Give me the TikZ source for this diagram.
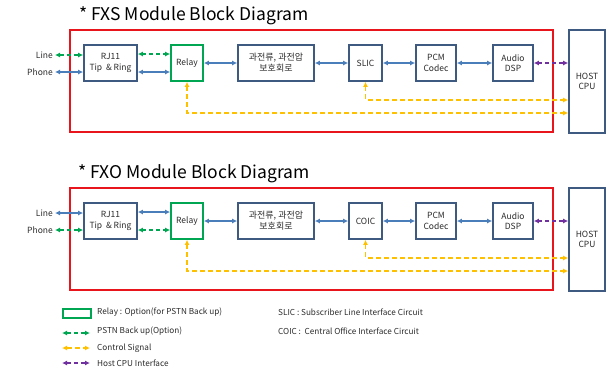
\documentclass[tikz,border=0pt]{standalone}
\usepackage{fontspec}
\setmainfont{Noto Sans CJK KR}
\usetikzlibrary{arrows.meta}

\definecolor{framered}{HTML}{E8161C}
\definecolor{boxline}{HTML}{3E5A80}
\definecolor{sigblue}{HTML}{4A7EBB}
\definecolor{pstngreen}{HTML}{00A651}
\definecolor{ctrlyellow}{HTML}{FFC000}
\definecolor{hostpurple}{HTML}{7030A0}
\definecolor{txt}{HTML}{2B2B2B}

\tikzset{
  tip/.tip={Latex[length=5pt,width=5pt]},
  title/.style={font=\fontsize{17.5}{20}\selectfont, text=black, inner sep=0},
  frame/.style={draw=framered, line width=2pt, inner sep=0},
  blk/.style={draw=boxline, line width=1.7pt, fill=white, align=center,
    inner sep=0, minimum height=36pt, text=txt,
    font=\fontsize{8.5}{10.5}\selectfont},
  relaybox/.style={blk, draw=pstngreen},
  lbl/.style={font=\fontsize{8.5}{10}\selectfont, text=txt, inner sep=0},
  lgd/.style={font=\fontsize{8.2}{10}\selectfont, text=txt, inner sep=0},
  sigarrow/.style={draw=sigblue, line width=1.6pt, {tip}-{tip}},
  pstnarrow/.style={draw=pstngreen, line width=1.6pt, dash pattern=on 4pt off 3pt, {tip}-{tip}},
  ctrlarrow/.style={draw=ctrlyellow, line width=1.8pt, dash pattern=on 5pt off 3pt, {tip}-{tip}},
  hostarrow/.style={draw=hostpurple, line width=1.6pt, dash pattern=on 4pt off 3pt, {tip}-{tip}},
}

% One module: #1 name prefix, #2 module type, #3 line interface block,
% #4 style of the Line path, #5 style of the Phone path
\newcommand{\drawmodule}[5]{%
  \node[title] (#1title) at (194,16) {* #2 Module Block Diagram};
  \node[frame, minimum width=483pt, minimum height=102pt] (#1frame) at (311.5,81) {};
  \node[blk, minimum width=53pt] (#1rj) at (110.5,63) {RJ11\\Tip \ \& Ring};
  \node[relaybox, minimum width=32pt] (#1relay) at (187,63) {Relay};
  \node[blk, minimum width=76pt, font=\fontsize{9}{11}\selectfont] (#1prot) at (276,63) {과전류, 과전압\\보호회로};
  \node[blk, minimum width=33pt] (#1if) at (365.5,63) {#3};
  \node[blk, minimum width=40pt] (#1pcm) at (436,63) {PCM\\Codec};
  \node[blk, minimum width=40pt] (#1dsp) at (513,63) {Audio\\DSP};
  \node[blk, minimum width=36pt, minimum height=103pt] (#1host) at (587,81.5) {HOST\\CPU};
  \node[lbl, anchor=east] (#1line) at (53,55) {Line};
  \node[lbl, anchor=east] (#1phone) at (53,72) {Phone};
  % telephone side
  \draw[#4] ([xshift=2pt]#1line.east) -- (#1line.east -| #1rj.west);
  \draw[#5] ([xshift=2pt]#1phone.east) -- (#1phone.east -| #1rj.west);
  \draw[#4] ([yshift=9pt]#1rj.east) -- ([yshift=9pt]#1relay.west);
  \draw[#5] ([yshift=-9pt]#1rj.east) -- ([yshift=-9pt]#1relay.west);
  % voice path
  \draw[sigarrow] (#1relay) -- (#1prot);
  \draw[sigarrow] (#1prot) -- (#1if);
  \draw[sigarrow] (#1if) -- (#1pcm);
  \draw[sigarrow] (#1pcm) -- (#1dsp);
  \draw[hostarrow] (#1dsp.east) -- (#1dsp.east -| #1host.west);
  % control lines
  \draw[ctrlarrow] (#1if.south) |- ([yshift=-18.5pt]#1host.west);
  \draw[ctrlarrow] (#1relay.south) |- ([yshift=-31.5pt]#1host.west);
}

\begin{document}
\begin{tikzpicture}[x=1pt, y=-1pt]
  \useasboundingbox (0,0) rectangle (609,368);

  \begin{scope}
    \drawmodule{s}{FXS}{SLIC}{pstnarrow}{sigarrow}
  \end{scope}
  \begin{scope}[shift={(0,158)}]
    \drawmodule{o}{FXO}{COIC}{sigarrow}{pstnarrow}
  \end{scope}

  % legend
  \node[draw=pstngreen, line width=2pt, minimum width=28pt, minimum height=9pt, inner sep=0]
    (lgbox) at (76.5,313.5) {};
  \node[lgd, anchor=west] (lgt1) at (97,312.5) {Relay : Option(for PSTN Back up)};
  \node[lgd, anchor=west] (lgt2) at (97,331) {PSTN Back up(Option)};
  \node[lgd, anchor=west] (lgt3) at (97,348) {Control Signal};
  \node[lgd, anchor=west] (lgt4) at (97,363) {Host CPU Interface};
  \coordinate (lga2) at (62,333);
  \coordinate (lga3) at (62,348);
  \coordinate (lga4) at (62,363);
  \draw[pstnarrow] (lga2) -- (lga2 -| 90,0);
  \draw[ctrlarrow] (lga3) -- (lga3 -| 90,0);
  \draw[hostarrow] (lga4) -- (lga4 -| 90,0);
  \node[lgd, anchor=west] (lgslic) at (278,312.5) {SLIC : Subscriber Line Interface Circuit};
  \node[lgd, anchor=west] (lgcoic) at (278,331) {COIC : \ Central Office Interface Circuit};
\end{tikzpicture}
\end{document}
